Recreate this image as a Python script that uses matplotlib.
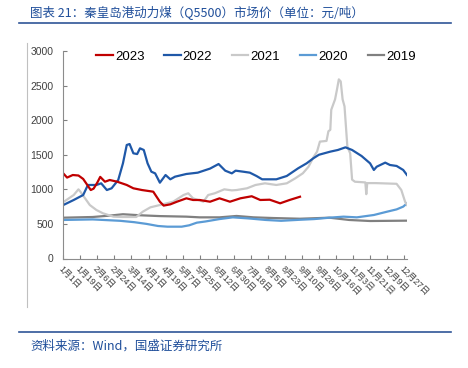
import matplotlib
matplotlib.use("Agg")
import matplotlib.pyplot as plt
from matplotlib.lines import Line2D

plt.rcParams['font.family'] = ['Liberation Sans', 'Noto Sans CJK SC', 'DejaVu Sans']

# ---- data (day of year, price) ----
d2023 = [0, 4, 10, 16, 21, 26, 29, 32, 36, 39, 44, 49, 57, 67, 74, 83, 95, 102, 106, 113, 120, 130, 137, 144,
         155, 165, 176, 187, 199, 208, 218, 229, 239, 250]
v2023 = [1230, 1170, 1207, 1200, 1150, 1050, 990, 1010, 1100, 1180, 1110, 1135, 1110, 1063, 1015, 990, 966, 821,
         765, 783, 821, 870, 846, 846, 821, 870, 821, 870, 900, 846, 850, 798, 846, 893]

d2022 = [0, 11, 21, 26, 35, 40, 46, 51, 58, 63, 67, 70, 74, 78, 81, 85, 89, 93, 97, 102, 108, 113, 118, 130, 142,
         155, 164, 171, 178, 182, 190, 197, 204, 210, 225, 236, 248, 257, 264, 270, 282, 290, 298, 305, 315, 324,
         328, 331, 340, 345, 352, 359, 363]
v2022 = [773, 846, 918, 1063, 1063, 1087, 990, 1015, 1135, 1376, 1641, 1655, 1521, 1510, 1593, 1569, 1376, 1255,
         1231, 1096, 1207, 1145, 1183, 1222, 1241, 1300, 1366, 1270, 1231, 1270, 1255, 1241, 1193, 1145, 1145, 1193,
         1304, 1376, 1448, 1500, 1545, 1569, 1607, 1569, 1482, 1376, 1280, 1327, 1386, 1352, 1338, 1280, 1207]

d2021 = [0, 11, 16, 18, 23, 28, 35, 42, 53, 63, 77, 84, 92, 102, 116, 127, 132, 137, 148, 153, 160, 170, 178, 183,
         194, 203, 213, 225, 236, 245, 253, 259, 264, 268, 271, 278, 280, 282, 283, 287, 289, 291, 293, 295, 297,
         300, 303, 305, 308, 319, 320, 321, 330, 352, 357, 361, 363]
v2021 = [815, 918, 1000, 967, 870, 773, 701, 653, 605, 600, 600, 677, 740, 773, 821, 918, 943, 870, 821, 918, 943,
         1000, 985, 990, 1015, 1063, 1087, 1063, 1087, 1159, 1232, 1327, 1460, 1545, 1690, 1700, 1840, 1860, 2150,
         2300, 2440, 2590, 2560, 2300, 2200, 1620, 1520, 1140, 1110, 1100, 930, 1090, 1090, 1080, 990, 820, 773]

d2020 = [0, 31, 60, 75, 88, 100, 110, 125, 133, 141, 150, 165, 179, 195, 214, 230, 250, 265, 281, 296, 310, 328,
         342, 352, 359, 363]
v2020 = [557, 565, 545, 525, 500, 470, 460, 460, 480, 518, 535, 570, 595, 580, 557, 545, 560, 570, 590, 605, 595,
         629, 677, 710, 750, 798]

d2019 = [0, 31, 49, 63, 81, 102, 130, 144, 165, 183, 201, 222, 250, 281, 302, 324, 363]
v2019 = [590, 600, 620, 640, 625, 613, 605, 595, 595, 615, 595, 585, 575, 590, 557, 542, 547]

tick_days = list(range(0, 361, 18))
tick_labels = ['1月1日', '1月19日', '2月6日', '2月24日', '3月14日', '4月1日', '4月19日', '5月7日', '5月25日',
               '6月12日', '6月30日', '7月18日', '8月5日', '8月23日', '9月10日', '9月28日', '10月16日', '11月3日',
               '11月21日', '12月9日', '12月27日']
y_ticks = [0, 500, 1000, 1500, 2000, 2500, 3000]

W, H = 468, 368
fig = plt.figure(figsize=(W / 100, H / 100), dpi=100)
ax = fig.add_axes([63.3 / W, (H - 258.5) / H, 343.7 / W, 207.5 / H])

series = [
    ('2023', d2023, v2023, '#c00000'),
    ('2022', d2022, v2022, '#1f58a8'),
    ('2021', d2021, v2021, '#c9c9c9'),
    ('2020', d2020, v2020, '#5b9bd5'),
    ('2019', d2019, v2019, '#808080'),
]
# draw order: older behind
for name, d, v, c in reversed(series):
    ax.plot(d, v, color=c, lw=1.6, solid_joinstyle='round', label=name)

ax.set_xlim(0, 363)
ax.set_ylim(0, 3000)
ax.set_yticks(y_ticks)
ax.set_yticklabels([str(t) for t in y_ticks])
ax.set_xticks(tick_days)
ax.set_xticklabels(tick_labels, rotation=-45, ha='left', va='top', rotation_mode='anchor',
                   fontsize=6.3, color='#404040')
ax.tick_params(axis='y', direction='in', length=3, labelsize=7.5, labelcolor='#404040', pad=7,
               color='#808080')
ax.tick_params(axis='x', direction='in', length=3, pad=4, color='#808080')
for s in ['top', 'right']:
    ax.spines[s].set_visible(False)
for s in ['left', 'bottom']:
    ax.spines[s].set_color('#8c8c8c')
    ax.spines[s].set_linewidth(0.8)

handles = [Line2D([], [], color=c, lw=1.6) for _, _, _, c in series]
labels = [n for n, _, _, _ in series]
fig.legend(handles, labels, loc='center', bbox_to_anchor=(256 / W, 1 - 57 / H), ncol=5, frameon=False,
           fontsize=9.5, handlelength=1.25, handletextpad=0.15, columnspacing=1.5)

# decorations
blue = '#2f5597'
fig.add_artist(Line2D([19 / W, 451 / W], [1 - 22.5 / H, 1 - 22.5 / H], color=blue, lw=1.2))
fig.add_artist(Line2D([19 / W, 451 / W], [1 - 331.7 / H, 1 - 331.7 / H], color=blue, lw=1.2))
fig.add_artist(Line2D([27 / W, 27 / W], [1 - 43 / H, 1 - 307 / H], color='#c0c0c0', lw=0.8))

fig.text(30 / W, 1 - 12 / H, '图表 21：秦皇岛港动力煤（Q5500）市场价（单位：元/吨）', fontsize=9,
         color='#1f4e9a', ha='left', va='center', family=['Noto Sans CJK SC', 'DejaVu Sans'])
fig.text(30 / W, 1 - 346 / H, '资料来源：Wind，国盛证券研究所', fontsize=9,
         color='#1f4e9a', ha='left', va='center', family=['Noto Sans CJK SC', 'DejaVu Sans'])

fig.savefig('out.png', dpi=100)
